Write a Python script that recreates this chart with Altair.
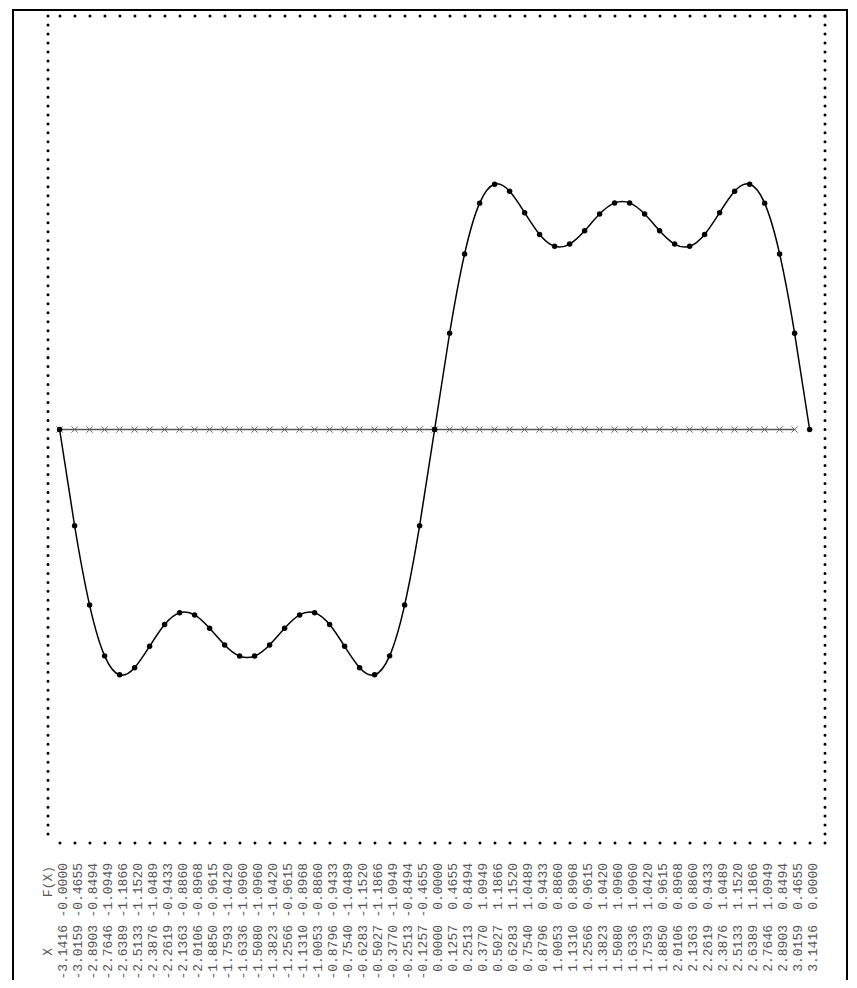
import altair as alt
import pandas as pd

x_vals = [-3.1416, -3.0159, -2.8903, -2.7646, -2.6389, -2.5133, -2.3876, -2.2619,
          -2.1363, -2.0106, -1.8850, -1.7593, -1.6336, -1.5080, -1.3823, -1.2566,
          -1.1310, -1.0053, -0.8796, -0.7540, -0.6283, -0.5027, -0.3770, -0.2513,
          -0.1257, 0.0000, 0.1257, 0.2513, 0.3770, 0.5027, 0.6283, 0.7540,
          0.8796, 1.0053, 1.1310, 1.2566, 1.3823, 1.5080, 1.6336, 1.7593,
          1.8850, 2.0106, 2.1363, 2.2619, 2.3876, 2.5133, 2.6389, 2.7646,
          2.8903, 3.0159, 3.1416]
f_vals = [-0.0, -0.4655, -0.8494, -1.0949, -1.1866, -1.1520, -1.0489, -0.9433,
          -0.8860, -0.8968, -0.9615, -1.0420, -1.0960, -1.0960, -1.0420, -0.9615,
          -0.8968, -0.8860, -0.9433, -1.0489, -1.1520, -1.1866, -1.0949, -0.8494,
          -0.4655, 0.0000, 0.4655, 0.8494, 1.0949, 1.1866, 1.1520, 1.0489,
          0.9433, 0.8860, 0.8968, 0.9615, 1.0420, 1.0960, 1.0960, 1.0420,
          0.9615, 0.8968, 0.8860, 0.9433, 1.0489, 1.1520, 1.1866, 1.0949,
          0.8494, 0.4655, 0.0000]
zero_count = 50                      # baseline with x markers runs over the first 50 abscissae
zero_vals = [0.0] * zero_count
header_cols = ["X", "F(X)"]

# ---- layout ----
W, H = 777, 827
X_DOMAIN = [-3.2388, 3.2704]
Y_DOMAIN = [-2, 2]

df = pd.DataFrame({"x": x_vals, "f": f_vals})
df["xlab"] = [f"{a:.4f}" for a in x_vals]
df["flab"] = [f"{b:.4f}" for b in f_vals]
zero_df = pd.DataFrame({"x": x_vals[:zero_count], "f": zero_vals})
hx = x_vals[0] - (x_vals[1] - x_vals[0])
header_df = pd.DataFrame({"x": [hx], "xlab": [header_cols[0]], "flab": [header_cols[1]]})

xs = alt.X("x:Q", scale=alt.Scale(domain=X_DOMAIN, nice=False, zero=False), axis=None)
ys = alt.Y("f:Q", scale=alt.Scale(domain=Y_DOMAIN, nice=False, zero=False), axis=None)

blank = alt.Data(values=[{}])

outer = alt.Chart(blank).mark_rect(filled=False, stroke="black", strokeWidth=2).encode(
    x=alt.value(-35), x2=alt.value(799), y=alt.value(-6), y2=alt.value(H + 200))

hdash = [0.001, 15]
vdash = [0.001, H / 92]
dot_style = dict(color="black", strokeWidth=3, strokeCap="round")
top_r = alt.Chart(blank).mark_rule(strokeDash=hdash, **dot_style).encode(
    x=alt.value(W), x2=alt.value(0), y=alt.value(0))
bot_r = alt.Chart(blank).mark_rule(strokeDash=hdash, **dot_style).encode(
    x=alt.value(W), x2=alt.value(0), y=alt.value(H))
left_r = alt.Chart(blank).mark_rule(strokeDash=vdash, **dot_style).encode(
    x=alt.value(0), y=alt.value(0), y2=alt.value(H))
right_r = alt.Chart(blank).mark_rule(strokeDash=vdash, **dot_style).encode(
    x=alt.value(W), y=alt.value(0), y2=alt.value(H))

zero_line = alt.Chart(zero_df).mark_line(color="#555555", strokeWidth=1.6).encode(x=xs, y=ys)
crosses = alt.Chart(zero_df).mark_point(
    shape="M-1,-1L1,1M-1,1L1,-1", filled=False, size=40, color="#666666", strokeWidth=1,
    opacity=1).encode(x=xs, y=ys)

curve = alt.Chart(df).mark_line(interpolate="natural", color="black", strokeWidth=1.5).encode(x=xs, y=ys)
dots = alt.Chart(df).mark_circle(size=30, color="black", opacity=1).encode(x=xs, y=ys)

text_style = dict(font="Liberation Mono", fontSize=13, angle=270, align="right",
                  baseline="middle", dy=3, color="#555555")
X_END = H + 82      # end (top) of the X column
F_END = H + 20      # end (top) of the F(X) column
HX_END = H + 105
HF_END = H + 23

xcol = alt.Chart(df).mark_text(**text_style).encode(x=xs, y=alt.value(X_END), text="xlab:N")
fcol = alt.Chart(df).mark_text(**text_style).encode(x=xs, y=alt.value(F_END), text="flab:N")
hxcol = alt.Chart(header_df).mark_text(**text_style).encode(x=xs, y=alt.value(HX_END), text="xlab:N")
hfcol = alt.Chart(header_df).mark_text(**text_style).encode(x=xs, y=alt.value(HF_END), text="flab:N")

chart = alt.layer(
    outer, top_r, bot_r, left_r, right_r, zero_line, crosses, curve, dots,
    xcol, fcol, hxcol, hfcol
).properties(
    width=W, height=H,
    autosize=alt.AutoSizeParams(type="none"),
    padding={"left": 40, "top": 8, "right": 24, "bottom": 137},
).configure_view(strokeWidth=0)

chart.save("out.html", embed_options={"renderer": "svg", "actions": False})
